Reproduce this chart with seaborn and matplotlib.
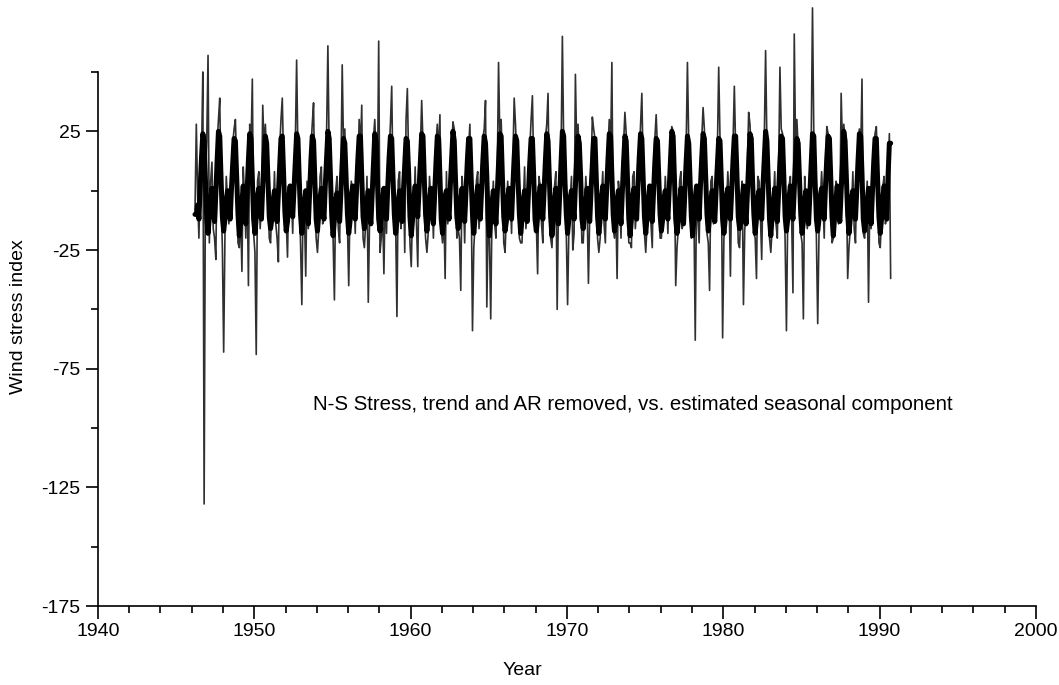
import numpy as np
import pandas as pd
import matplotlib.pyplot as plt
import seaborn as sns
from matplotlib.ticker import MultipleLocator, FixedLocator

# -------- DATA (monthly values, Jan..Dec) --------
years = list(range(1946, 1991))
nan = np.nan

# observed N-S stress (trend and AR removed) -- thin grey line
observed = [
    [nan, nan, -8, 28, -2, -20, 8, 15, 50, -132, 6, 20],      # 1946
    [57, -22, 4, 12, -16, -20, -29, 20, 30, 39, -2, -24],     # 1947
    [-68, -18, 6, -5, -14, -4, 8, 20, 26, 30, 10, -22],       # 1948
    [-24, -8, -34, 10, -2, -20, 6, -40, 28, 18, 47, -18],     # 1949
    [-26, -69, 4, 8, -16, -6, 36, 18, 28, 14, -2, -20],       # 1950
    [-22, -6, -10, 8, -14, -20, -30, 18, 30, 39, 12, -16],    # 1951
    [-12, -28, 2, -6, -2, -18, 10, 20, 55, 16, 0, -22],       # 1952
    [-48, -4, -10, -36, 4, -16, 6, 18, 28, 37, -4, -20],      # 1953
    [-26, -16, 6, 10, -14, -8, 10, 24, 61, 16, 10, -18],      # 1954
    [-20, -46, 0, 6, -16, -22, 8, 53, 18, 26, -2, -14],       # 1955
    [-40, -6, 4, -8, -2, -18, 10, 6, 30, 18, 36, -20],        # 1956
    [-24, -14, 6, -47, -12, -4, 4, 22, 30, 14, 0, 63],        # 1957
    [-26, -20, -8, -35, 0, -18, 12, 16, 28, 44, 2, -18],      # 1958
    [-14, -53, 4, 8, -16, -10, 6, -26, 30, 43, 12, -22],      # 1959
    [-32, -8, -10, 10, -14, -32, 8, 18, 38, 20, -6, -20],     # 1960
    [-26, -18, 6, -4, -2, -20, 4, 20, 28, 16, 32, -16],       # 1961
    [-22, -8, -37, 8, -14, -6, 10, 16, 29, 26, 2, -20],       # 1962
    [-16, -20, -42, 6, -2, -22, 6, 20, 18, 28, 0, -59],       # 1963
    [-24, -14, 4, 8, -16, -8, 10, 22, 26, 38, -49, -14],      # 1964
    [-20, -54, -8, 4, -14, -20, 6, 54, 22, 30, 10, -22],      # 1965
    [-26, -10, 4, -6, -2, -18, 12, 39, 28, 14, 0, -20],       # 1966
    [-22, -22, -6, 10, -16, -8, 4, 18, 30, 40, 8, -16],       # 1967
    [-14, -35, 6, 2, -14, -22, 8, 22, 28, 41, -4, -20],       # 1968
    [-24, -10, 2, 8, -50, -6, 6, 16, 65, 20, 6, -18],         # 1969
    [-48, -16, -4, 6, -25, -18, 49, 18, 28, 14, 2, -22],      # 1970
    [-22, -8, 6, -6, -39, -10, 8, 31, 26, 22, 8, -20],        # 1971
    [-26, -20, -2, 8, -14, -22, 4, 18, 30, 16, 54, -16],      # 1972
    [-20, -6, -37, 4, -2, -20, 10, 20, 33, 24, -2, -22],      # 1973
    [-22, -24, 6, 8, -16, -8, 6, 14, 28, 41, 10, -18],        # 1974
    [-26, -14, 2, -4, -14, -24, 8, 22, 32, 18, 0, -20],       # 1975
    [-20, -8, -8, 6, -4, -18, 4, 20, 27, 25, 8, -40],         # 1976
    [-24, -16, 4, 8, -16, -10, 10, 18, 54, 20, -4, -20],      # 1977
    [-18, -10, -63, 2, -12, -22, 6, 22, 35, 26, 4, -18],      # 1978
    [-22, -42, 4, 6, -14, -8, 8, 18, 52, 22, 10, -62],        # 1979
    [-20, -14, -6, 8, -4, -36, 6, 20, 44, 18, 2, -22],        # 1980
    [-24, -8, 4, -48, -16, -12, 10, 33, 28, 16, 6, -18],      # 1981
    [-20, -37, 6, 4, -10, -29, 4, 22, 59, 20, -2, -20],       # 1982
    [-26, -16, -4, 8, -14, -20, 8, 52, 26, 24, 4, -22],       # 1983
    [-59, -10, 2, 6, -12, -43, 66, 18, 30, 18, 0, -18],       # 1984
    [-22, -54, 6, -6, -16, -8, 6, 20, 77, 24, 8, -20],        # 1985
    [-56, -18, -4, 8, -4, -20, 10, 27, 24, 20, -2, -22],      # 1986
    [-20, -10, 4, 2, -14, -10, 41, 18, 28, 22, 6, -37],       # 1987
    [-24, -16, -6, 8, -16, -22, 6, 20, 26, 16, 47, -18],      # 1988
    [-20, -8, 4, -47, -4, -16, 8, 18, 24, 27, 10, -22],       # 1989
    [-24, -12, 2, 6, -14, -10, 6, 24, -37, nan, nan, nan],    # 1990
]

# estimated seasonal component -- thick black line
seasonal = [
    [nan, nan, -10, -10, -6, -12, 2, 14, 24, 21, 4, -12],     # 1946
    [-18, -11, -3, 1, -8, -13, -1, 13, 25, 23, 5, -11],       # 1947
    [-17, -12, -4, 0, -7, -12, 1, 12, 22, 21, 6, -10],        # 1948
    [-19, -13, -5, 2, -9, -14, 0, 13, 24, 22, 5, -12],        # 1949
    [-18, -11, -2, 1, -8, -12, 2, 14, 23, 20, 4, -11],        # 1950
    [-16, -12, -4, 0, -6, -13, -1, 11, 22, 23, 7, -9],        # 1951
    [-17, -13, -3, 2, -7, -11, 1, 12, 24, 22, 5, -10],        # 1952
    [-18, -12, -5, 0, -9, -14, 0, 13, 23, 21, 4, -12],        # 1953
    [-17, -10, -3, 1, -8, -12, 2, 14, 25, 22, 6, -11],        # 1954
    [-19, -12, -4, -1, -7, -13, 0, 12, 22, 20, 5, -10],       # 1955
    [-18, -13, -2, 2, -8, -12, 1, 13, 23, 23, 6, -11],        # 1956
    [-16, -11, -4, 0, -9, -14, -1, 12, 24, 21, 4, -12],       # 1957
    [-17, -12, -3, 1, -7, -12, 2, 14, 23, 22, 5, -10],        # 1958
    [-18, -13, -5, 0, -8, -13, 0, 11, 22, 21, 7, -11],        # 1959
    [-19, -12, -3, 2, -6, -11, 1, 13, 24, 23, 5, -10],        # 1960
    [-17, -11, -4, 1, -9, -14, -1, 12, 23, 22, 6, -12],       # 1961
    [-18, -12, -2, 0, -7, -12, 2, 14, 25, 21, 4, -11],        # 1962
    [-16, -13, -4, 1, -8, -13, 0, 12, 22, 22, 5, -10],        # 1963
    [-18, -11, -3, 2, -9, -12, 1, 13, 23, 20, 6, -12],        # 1964
    [-19, -12, -5, 0, -7, -14, -1, 12, 24, 23, 5, -11],       # 1965
    [-17, -13, -3, 1, -8, -12, 2, 14, 23, 21, 4, -10],        # 1966
    [-18, -12, -4, 0, -9, -13, 0, 12, 22, 22, 6, -12],        # 1967
    [-17, -11, -2, 2, -7, -12, 1, 13, 24, 21, 5, -11],        # 1968
    [-19, -13, -4, 1, -8, -14, -1, 12, 25, 23, 4, -10],       # 1969
    [-18, -12, -3, 0, -6, -12, 2, 14, 23, 20, 6, -12],        # 1970
    [-16, -11, -5, 1, -9, -13, 0, 11, 22, 22, 5, -11],        # 1971
    [-18, -12, -3, 2, -8, -12, 1, 13, 24, 23, 7, -10],        # 1972
    [-17, -13, -4, 0, -7, -14, -1, 12, 23, 21, 4, -12],       # 1973
    [-19, -12, -2, 1, -8, -12, 2, 14, 24, 22, 5, -11],        # 1974
    [-18, -11, -4, 2, -9, -13, 0, 12, 22, 21, 6, -10],        # 1975
    [-17, -12, -3, 0, -7, -12, 1, 13, 25, 23, 5, -12],        # 1976
    [-18, -13, -5, 1, -8, -14, -1, 12, 23, 20, 4, -11],       # 1977
    [-19, -12, -3, 2, -6, -12, 2, 14, 24, 22, 6, -10],        # 1978
    [-17, -11, -4, 0, -9, -13, 0, 11, 22, 21, 5, -12],        # 1979
    [-18, -12, -2, 1, -8, -12, 1, 13, 23, 23, 7, -11],        # 1980
    [-16, -13, -4, 2, -7, -14, -1, 12, 24, 22, 4, -10],       # 1981
    [-18, -12, -3, 0, -8, -12, 2, 14, 25, 21, 5, -12],        # 1982
    [-19, -11, -5, 1, -9, -13, 0, 12, 23, 22, 6, -11],        # 1983
    [-17, -12, -3, 2, -7, -12, 1, 13, 22, 20, 5, -10],        # 1984
    [-18, -13, -4, 0, -8, -14, -1, 12, 24, 23, 4, -12],       # 1985
    [-17, -12, -2, 1, -6, -12, 2, 14, 23, 22, 6, -11],        # 1986
    [-19, -11, -4, 2, -9, -13, 0, 11, 25, 21, 5, -10],        # 1987
    [-18, -12, -3, 0, -8, -12, 1, 13, 24, 23, 7, -12],        # 1988
    [-17, -13, -5, 1, -7, -14, -1, 12, 22, 22, 4, -11],       # 1989
    [-18, -12, -3, 2, -8, -12, 6, 20, 20, nan, nan, nan],     # 1990
]

x_ticks = [1940, 1950, 1960, 1970, 1980, 1990, 2000]
y_ticks = [25, -25, -75, -125, -175]
note = "N-S Stress, trend and AR removed, vs. estimated seasonal component"

# -------- BUILD LONG TABLES --------
rows = []
for yr, obs_row, seas_row in zip(years, observed, seasonal):
    for m in range(12):
        rows.append({"Year": yr + (m + 0.5) / 12, "Observed": obs_row[m], "Seasonal": seas_row[m]})
df = pd.DataFrame(rows)
df_obs = df.dropna(subset=["Observed"])
df_seas = df.dropna(subset=["Seasonal"])

# -------- PLOT --------
sns.set_style("ticks")
plt.rcParams["font.family"] = ["Liberation Sans", "DejaVu Sans"]
plt.rcParams["axes.unicode_minus"] = False
plt.rcParams["text.color"] = "black"
plt.rcParams["axes.labelcolor"] = "black"

fig = plt.figure(figsize=(10.59, 6.85), dpi=100)
ax = fig.add_axes([0.0925, 0.1153, 0.8857, 0.7796])

sns.lineplot(data=df_obs, x="Year", y="Observed", color="#303030", linewidth=1.2,
             estimator=None, ax=ax)
sns.lineplot(data=df_seas, x="Year", y="Seasonal", color="black", linewidth=3.6,
             estimator=None, ax=ax)
for ln in ax.lines:
    ln.set_clip_on(False)

ax.set_xlim(1940, 2000)
ax.set_ylim(-175, 50)
ax.xaxis.set_major_locator(FixedLocator(x_ticks))
ax.xaxis.set_minor_locator(MultipleLocator(2))
ax.yaxis.set_major_locator(FixedLocator(y_ticks))
ax.yaxis.set_minor_locator(FixedLocator([50, 0, -50, -100, -150]))
ax.tick_params(axis="both", which="major", length=9, width=1.2, labelsize=14, colors="black")
ax.tick_params(axis="both", which="minor", length=5, width=1.2, colors="black")

sns.despine(ax=ax)
for s in ["left", "bottom"]:
    ax.spines[s].set_linewidth(1.2)
    ax.spines[s].set_color("black")

ax.set_xlabel("Year", fontsize=14, color="black")
ax.set_ylabel("Wind stress index", fontsize=14, color="black")
ax.xaxis.set_label_coords(0.453, -0.105)
ax.yaxis.set_label_coords(-0.0757, 0.541)

ax.text(1953.76, -90, note, fontsize=14.7, ha="left", va="center", color="black")

fig.savefig("out.png", dpi=100)
